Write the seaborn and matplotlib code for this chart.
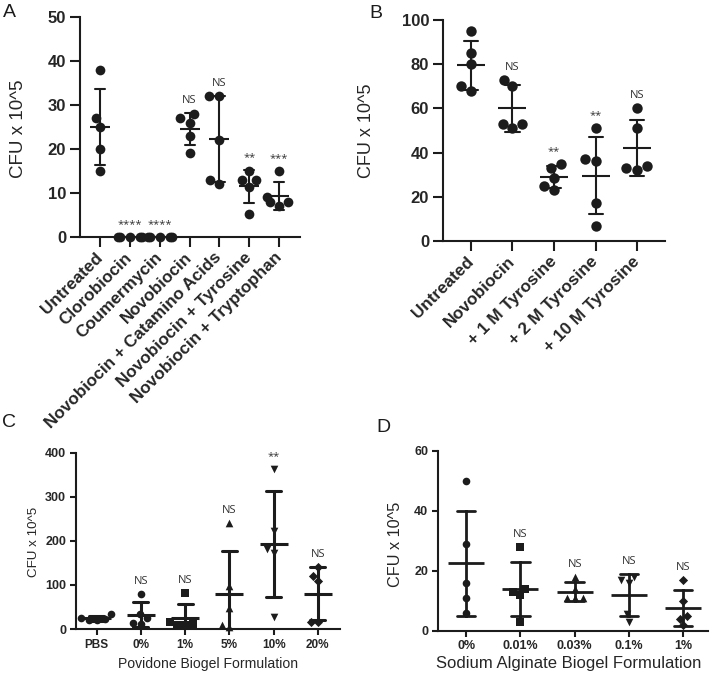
import numpy as np
import pandas as pd
import matplotlib
matplotlib.use("Agg")
import matplotlib.pyplot as plt
import seaborn as sns

# --- data (CFU x 10^5) ---
a_groups = ["Untreated", "Clorobiocin", "Coumermycin", "Novobiocin",
            "Novobiocin + Catamino Acids", "Novobiocin + Tyrosine",
            "Novobiocin + Tryptophan"]
a_values = [
    [38, 27, 25, 20, 15],
    [0, 0, 0, 0, 0],
    [0, 0, 0, 0, 0],
    [28, 27, 26, 23, 19],
    [32, 32, 22, 13, 12],
    [15, 13, 13, 11.4, 5.3],
    [15, 9, 8, 8, 7],
]
a_sig = ["", "****", "****", "NS", "NS", "**", "***"]

b_groups = ["Untreated", "Novobiocin", "+ 1 M Tyrosine", "+ 2 M Tyrosine",
            "+ 10 M Tyrosine"]
b_values = [
    [95, 85, 80, 68, 70],
    [73, 70, 51, 53, 53],
    [35, 33, 28.5, 23, 25],
    [51, 36, 37, 17, 7],
    [60, 51, 34, 32, 33],
]
b_sig = ["", "NS", "**", "**", "NS"]

c_groups = ["PBS", "0%", "1%", "5%", "10%", "20%"]
c_values = [
    [20, 33, 26, 22, 21],
    [80, 33, 24, 13, 12],
    [81, 15, 12, 10, 8],
    [240, 98, 48, 5, 8],
    [362, 222, 182, 172, 27],
    [140, 110, 120, 15, 17],
]
c_sig = ["", "NS", "NS", "NS", "**", "NS"]
c_markers = ["o", "o", "s", "^", "v", "D"]

d_groups = ["0%", "0.01%", "0.03%", "0.1%", "1%"]
d_values = [
    [50, 29, 16, 11, 6],
    [28, 13, 14, 12, 3],
    [18, 14, 11, 11, 11],
    [16, 17, 18, 5.5, 3],
    [17, 10, 5, 4, 2],
]
d_sig = ["", "NS", "NS", "NS", "NS"]
d_markers = ["o", "s", "^", "v", "D"]

INK = "#1c1c1c"

sns.set_style("ticks")
plt.rcParams["font.family"] = ["Liberation Sans", "DejaVu Sans"]


def to_frame(groups, values):
    return pd.DataFrame({
        "group": np.repeat(groups, [len(v) for v in values]),
        "value": np.concatenate([np.asarray(v, float) for v in values]),
    })


def panel(ax, groups, values, sig, markers, dot, mean_len, lw, ylim, yticks):
    df = to_frame(groups, values)
    for g, m in zip(groups, markers):
        sub = df[df["group"] == g]
        sns.swarmplot(data=sub, x="group", y="value", order=groups, ax=ax,
                      color=INK, marker=m, size=dot * (0.85 if m == "D" else 1),
                      linewidth=0, clip_on=False, warn_thresh=1)
    sns.pointplot(data=df, x="group", y="value", order=groups, ax=ax,
                  errorbar="sd", capsize=0.34, color=INK, markers="_",
                  markersize=mean_len, markeredgewidth=lw, linestyles="none",
                  err_kws={"linewidth": lw})
    # significance labels above each group
    for i, (vals, s) in enumerate(zip(values, sig)):
        if not s:
            continue
        top = max(np.max(vals), np.mean(vals) + np.std(vals, ddof=1))
        ax.annotate(s, xy=(i, top), xytext=(0, 9), textcoords="offset points",
                    ha="center", va="center", fontsize=8, color="#333333",
                    family=["Open Sans", "DejaVu Sans"])
    ax.set_ylim(*ylim)
    ax.set_yticks(yticks)
    ax.set_xlabel("")
    ax.set_ylabel("CFU x 10^5")
    for s in ["top", "right"]:
        ax.spines[s].set_visible(False)
    for s in ["left", "bottom"]:
        ax.spines[s].set_linewidth(1.5)
        ax.spines[s].set_color(INK)


fig = plt.figure(figsize=(7.12, 6.77), dpi=100)

# --- A ---
axA = fig.add_axes([0.1124, 0.6499, 0.309, 0.325])
panel(axA, a_groups, a_values, a_sig, ["o"] * 7, 7, 14, 1.5, (0, 50), range(0, 51, 10))
axA.set_xlim(-0.67, 6.7)
axA.tick_params(length=7, width=1.5, color=INK, labelsize=12, pad=3)
axA.set_xticks(range(len(a_groups)))
axA.set_xticklabels(a_groups, rotation=45, ha="right", va="center",
                    rotation_mode="anchor", fontsize=12.3, fontweight="bold")
axA.tick_params(axis="x", pad=6)
axA.set_yticklabels([str(t) for t in range(0, 51, 10)], fontweight="bold")
axA.set_ylabel("CFU x 10^5", fontsize=13.5)
axA.yaxis.set_label_coords(-0.241, 0.49)

# --- B ---
axB = fig.add_axes([0.6222, 0.644, 0.3118, 0.3264])
panel(axB, b_groups, b_values, b_sig, ["o"] * 5, 7.5, 20.4, 1.5, (0, 100), range(0, 101, 20))
axB.set_xlim(-0.67, 4.67)
axB.tick_params(length=7, width=1.5, color=INK, labelsize=12, pad=3)
axB.set_xticks(range(len(b_groups)))
axB.set_xticklabels(b_groups, rotation=45, ha="right", va="center",
                    rotation_mode="anchor", fontsize=12.3, fontweight="bold")
axB.tick_params(axis="x", pad=6)
axB.set_yticklabels([str(t) for t in range(0, 101, 20)], fontweight="bold")
axB.set_ylabel("CFU x 10^5", fontsize=13)
axB.yaxis.set_label_coords(-0.306, 0.5)

# --- C ---
axC = fig.add_axes([0.1067, 0.0709, 0.3708, 0.2604])
panel(axC, c_groups, c_values, c_sig, c_markers, 5.5, 20.7, 2.2, (0, 400), range(0, 401, 100))
axC.set_xlim(-0.47, 5.5)
axC.tick_params(length=4, width=1.5, color=INK, labelsize=9, pad=3)
axC.set_xticks(range(len(c_groups)))
axC.set_xticklabels(c_groups, fontsize=8.5, fontweight="bold")
axC.set_yticklabels([str(t) for t in range(0, 401, 100)], fontweight="bold")
axC.set_ylabel("CFU x 10^5", fontsize=9.6)
axC.yaxis.set_label_coords(-0.136, 0.495)
axC.set_xlabel("Povidone Biogel Formulation", fontsize=10.1)
axC.xaxis.set_label_coords(0.5, -0.16)

# --- D ---
axD = fig.add_axes([0.6152, 0.0684, 0.3792, 0.2659])
panel(axD, d_groups, d_values, d_sig, d_markers, 5.5, 25.8, 2.0, (0, 60), range(0, 61, 20))
axD.set_xlim(-0.52, 4.46)
axD.tick_params(length=4, width=1.5, color=INK, labelsize=9, pad=3)
axD.set_xticks(range(len(d_groups)))
axD.set_xticklabels(d_groups, fontsize=9, fontweight="bold")
axD.set_yticklabels([str(t) for t in range(0, 61, 20)], fontweight="bold")
axD.set_ylabel("CFU x 10^5", fontsize=11.7)
axD.yaxis.set_label_coords(-0.13, 0.48)
axD.set_xlabel("Sodium Alginate Biogel Formulation", fontsize=12)
axD.xaxis.set_label_coords(0.484, -0.14)

# panel letters
for letter, x, y in [("A", 3, 4), ("B", 369, 5), ("C", 2, 414), ("D", 376, 419)]:
    fig.text(x / 712, 1 - y / 677, letter, fontsize=14, va="top", ha="left", color=INK)

fig.savefig("out.png", dpi=100)
